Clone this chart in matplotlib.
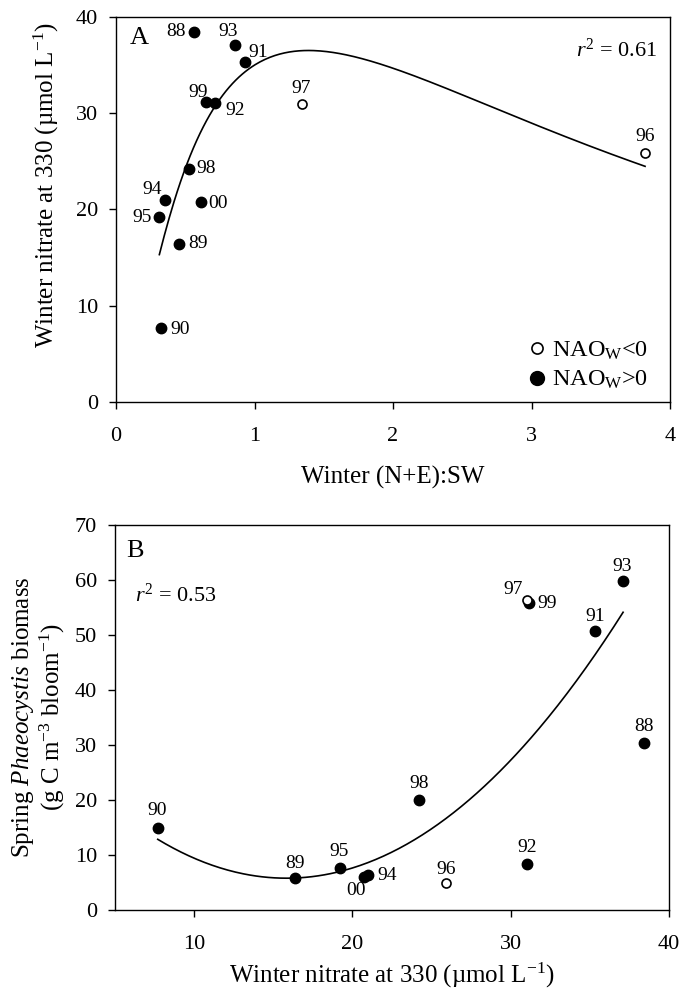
import numpy as np
import matplotlib.pyplot as plt
from matplotlib.lines import Line2D

plt.rcParams['font.family'] = 'Liberation Serif'
plt.rcParams['mathtext.fontset'] = 'custom'
plt.rcParams['mathtext.rm'] = 'Liberation Serif'
plt.rcParams['mathtext.it'] = 'Liberation Serif:italic'
plt.rcParams['mathtext.bf'] = 'Liberation Serif:bold'

# data (one value per winter)
years = ['88', '89', '90', '91', '92', '93', '94', '95', '96', '97', '98', '99', '00']
ratio_ne_sw = [0.565, 0.452, 0.323, 0.93, 0.715, 0.86, 0.354, 0.313, 3.82, 1.34, 0.53, 0.65, 0.614]
nitrate = [38.4, 16.4, 7.7, 35.3, 31.05, 37.1, 21.0, 19.2, 25.9, 31.0, 24.2, 31.15, 20.75]
biomass = [30.3, 5.76, 14.85, 50.8, 8.36, 59.8, 6.36, 7.58, 4.85, 56.4, 20.0, 55.8, 6.06]
nao_positive = [True, True, True, True, True, True, True, True, False, False, True, True, True]

r2_a = 0.61
r2_b = 0.53
# quadratic regression drawn in panel B (coefficients)
quad_b = [0.1069, -3.385, 32.58]
fit_b_end = 37.1

# label offsets in pixels (dx, dy)
off_a = {'88': (-18, 1), '93': (-7, 13), '91': (13, 10), '99': (-8, 10), '92': (20, -7),
         '97': (0, 15), '98': (17, 0), '94': (-13, 10), '00': (17, -1), '95': (-17, 0),
         '89': (19, 0), '90': (19, -2), '96': (0, 16)}
off_b = {'88': (0, 17), '89': (0, 15), '90': (-1, 18), '91': (1, 14), '92': (0, 17),
         '93': (-1, 15), '94': (19, 0), '95': (-1, 17), '96': (0, 14), '97': (-13, 10),
         '98': (0, 17), '99': (18, 0), '00': (-8, -14)}

x_a = np.array(ratio_ne_sw)
n = np.array(nitrate)
bm = np.array(biomass)
pos = np.array(nao_positive)


def lognormal_peak(x, a, x0, b):
    return a * np.exp(-0.5 * (np.log(x / x0) / b) ** 2)


# least squares fit of the 3 parameter log-normal peak (grid search, a solved linearly)
best = None
for x0 in np.linspace(0.8, 2.5, 171):
    for b in np.linspace(0.5, 2.0, 151):
        g = lognormal_peak(x_a, 1.0, x0, b)
        a = (g @ n) / (g @ g)
        sse = np.sum((n - a * g) ** 2)
        if best is None or sse < best[0]:
            best = (sse, a, x0, b)
_, fa, fx0, fb = best

fig = plt.figure(figsize=(6.83, 9.91), dpi=100)
axA = fig.add_axes([116 / 683, 1 - 401.7 / 991, 554 / 683, 384.7 / 991])
axB = fig.add_axes([115 / 683, 1 - 910 / 991, 554 / 683, 385 / 991])


def style(ax):
    for s in ax.spines.values():
        s.set_linewidth(1.0)
    ax.tick_params(direction='out', length=5, width=1, labelsize=16, top=False, right=False)
    ax.tick_params(axis='x', pad=13)
    ax.tick_params(axis='y', pad=8)


# ---- panel A
xs = np.linspace(x_a.min(), x_a.max(), 300)
axA.plot(xs, lognormal_peak(xs, fa, fx0, fb), color='black', lw=1.2)
axA.plot(x_a[pos], n[pos], 'o', color='black', ms=7.5)
axA.plot(x_a[~pos], n[~pos], 'o', mfc='white', mec='black', ms=6.5, mew=1.2)
for yr, xv, yv in zip(years, x_a, n):
    axA.annotate(yr, (xv, yv), xytext=off_a[yr], textcoords='offset pixels',
                 ha='center', va='center', fontsize=14)
axA.set_xlim(0, 4)
axA.set_ylim(0, 40)
axA.set_xticks([0, 1, 2, 3, 4])
axA.set_yticks([0, 10, 20, 30, 40])
style(axA)
axA.set_xlabel('Winter (N+E):SW', fontsize=18, va='center')
axA.xaxis.set_label_coords(0.5, -0.198)
axA.set_ylabel('Winter nitrate at 330 (µmol L$^{-1}$)', fontsize=18, va='center', ha='center')
axA.yaxis.set_label_coords(-0.1255, 0.563)
axA.text(0.025, 0.929, 'A', transform=axA.transAxes, fontsize=19, va='baseline')
axA.text(0.977, 0.896, '$r^2$ = %.2f' % r2_a, transform=axA.transAxes, fontsize=16,
         ha='right', va='baseline')
handles = [Line2D([], [], ls='none', marker='o', mfc='white', mec='black', ms=8, mew=1.2),
           Line2D([], [], ls='none', marker='o', color='black', ms=10)]
axA.legend(handles, ['NAO$_\\mathrm{W}$<0', 'NAO$_\\mathrm{W}$>0'], loc='lower right',
           bbox_to_anchor=(1.0, -0.03), frameon=False, fontsize=17.5, handletextpad=0.05,
           labelspacing=0.3, handlelength=1.1)

# ---- panel B
xs = np.linspace(n.min(), fit_b_end, 300)
axB.plot(xs, np.polyval(quad_b, xs), color='black', lw=1.2)
axB.plot(n[pos], bm[pos], 'o', color='black', ms=7.5)
axB.plot(n[~pos], bm[~pos], 'o', mfc='white', mec='black', ms=6.5, mew=1.2)
for yr, xv, yv in zip(years, n, bm):
    axB.annotate(yr, (xv, yv), xytext=off_b[yr], textcoords='offset pixels',
                 ha='center', va='center', fontsize=14)
axB.set_xlim(5, 40)
axB.set_ylim(0, 70)
axB.set_xticks([10, 20, 30, 40])
axB.set_yticks(np.arange(0, 71, 10))
style(axB)
axB.set_xlabel('Winter nitrate at 330 (µmol L$^{-1}$)', fontsize=18, va='center')
axB.xaxis.set_label_coords(0.5, -0.171)
axB.set_ylabel('Spring $\\mathit{Phaeocystis}$ biomass\n(g C m$^{-3}$ bloom$^{-1}$)',
               fontsize=18, va='center', ha='center', linespacing=1.1)
axB.yaxis.set_label_coords(-0.138, 0.5)
axB.text(0.021, 0.917, 'B', transform=axB.transAxes, fontsize=19, va='baseline')
axB.text(0.036, 0.80, '$r^2$ = %.2f' % r2_b, transform=axB.transAxes, fontsize=16,
         va='baseline')

fig.savefig('out.png', dpi=100)
